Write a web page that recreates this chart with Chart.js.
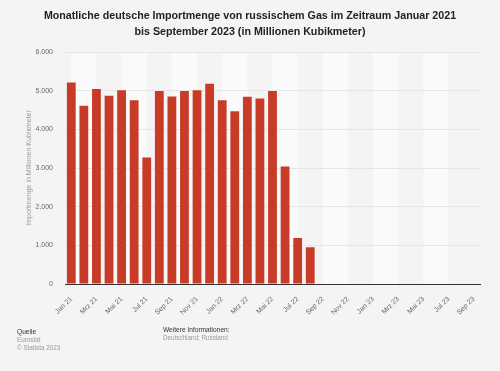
<!DOCTYPE html>
<html>
<head>
<meta charset="utf-8">
<script src="https://cdn.jsdelivr.net/npm/chart.js@4/dist/chart.umd.min.js"></script>
<style>
  html, body { margin: 0; padding: 0; background: #f4f4f4; }
  #wrap { width: 500px; height: 371px; position: relative; }
</style>
</head>
<body>
<div id="wrap"><canvas id="chart" width="500" height="371"></canvas></div>
<script>
// Monate Jan 21 bis Sep 23
const months = ['Jan 21','Feb 21','Mrz 21','Apr 21','Mai 21','Jun 21','Jul 21','Aug 21','Sep 21','Okt 21','Nov 21','Dez 21',
                'Jan 22','Feb 22','Mrz 22','Apr 22','Mai 22','Jun 22','Jul 22','Aug 22','Sep 22','Okt 22','Nov 22','Dez 22',
                'Jan 23','Feb 23','Mrz 23','Apr 23','Mai 23','Jun 23','Jul 23','Aug 23','Sep 23'];
// Importmenge in Mio. Kubikmeter
const importVolume = [5210, 4610, 5040, 4870, 5010, 4750, 3270, 4990, 4850, 4990, 5010, 5180,
                      4750, 4470, 4840, 4800, 4990, 3040, 1190, 950, 0, 0, 0, 0,
                      0, 0, 0, 0, 0, 0, 0, 0, 0];
const yTicks = [0, 1000, 2000, 3000, 4000, 5000, 6000];
const titleLines = ['Monatliche deutsche Importmenge von russischem Gas im Zeitraum Januar 2021',
                    'bis September 2023 (in Millionen Kubikmeter)'];

const FONT = '"Liberation Sans", Arial, sans-serif';
const fmt = v => String(v).replace(/\B(?=(\d{3})+(?!\d))/g, '.');

// helle Streifen hinter den Balken
const bands = {
    id: 'bands',
    beforeDraw(chart) {
        const { ctx, chartArea, scales } = chart;
        ctx.save();
        ctx.fillStyle = '#fafafa';
        for (let i = 0; i < months.length - 1; i += 4) {
            const x1 = scales.x.getPixelForValue(i);
            const x2 = scales.x.getPixelForValue(Math.min(i + 2, months.length - 1));
            ctx.fillRect(x1, chartArea.top, x2 - x1, chartArea.bottom - chartArea.top);
        }
        ctx.restore();
    }
};

// Titel + Quelle / Weitere Informationen
const texts = {
    id: 'texts',
    afterDraw(chart) {
        const ctx = chart.ctx;
        ctx.save();
        ctx.textBaseline = 'middle';
        ctx.textAlign = 'center';
        ctx.fillStyle = '#222';
        ctx.font = 'bold 10.7px ' + FONT;
        ctx.fillText(titleLines[0], 250, 16);
        ctx.fillText(titleLines[1], 250, 32);

        ctx.textAlign = 'left';
        ctx.font = '6.6px ' + FONT;
        ctx.fillStyle = '#333';
        ctx.fillText('Quelle', 17, 332);
        ctx.fillText('Weitere Informationen:', 163, 330);
        ctx.fillStyle = '#999';
        ctx.font = '6.3px ' + FONT;
        ctx.fillText('Eurostat', 17, 340);
        ctx.fillText('© Statista 2023', 17, 348);
        ctx.fillText('Deutschland; Russland', 163, 338);
        ctx.restore();
    }
};

const ctx = document.getElementById('chart').getContext('2d');
const chart = new Chart(ctx, {
    type: 'bar',
    data: {
        labels: months,
        datasets: [{
            data: importVolume,
            backgroundColor: '#c83c27',
            barPercentage: 0.7,
            categoryPercentage: 1
        }]
    },
    options: {
        responsive: false,
        animation: false,
        layout: { padding: { left: 0, right: 20, top: 52, bottom: 50 } },
        plugins: {
            legend: { display: false },
            tooltip: { enabled: false },
            title: { display: false }
        },
        scales: {
            x: {
                grid: { display: false },
                border: { color: '#333', width: 1 },
                ticks: {
                    autoSkip: false,
                    minRotation: 45,
                    maxRotation: 45,
                    color: '#666',
                    font: { family: FONT, size: 7 },
                    callback: (v, i) => i % 2 === 0 ? months[i] : ''
                },
                afterFit: s => { s.height = 37; }
            },
            y: {
                min: 0,
                max: 6000,
                afterBuildTicks: s => { s.ticks = yTicks.map(v => ({ value: v })); },
                grid: { color: '#e6e6e6', drawTicks: false },
                border: { display: false },
                ticks: {
                    padding: 12,
                    color: '#666',
                    font: { family: FONT, size: 7 },
                    callback: v => fmt(v)
                },
                title: {
                    display: true,
                    text: 'Importmenge in Millionen Kubikmeter',
                    color: '#999',
                    font: { family: FONT, size: 7 },
                    padding: { top: 25, bottom: 0 }
                },
                afterFit: s => { s.width = 65; }
            }
        }
    },
    plugins: [bands, texts]
});
</script>
</body>
</html>
